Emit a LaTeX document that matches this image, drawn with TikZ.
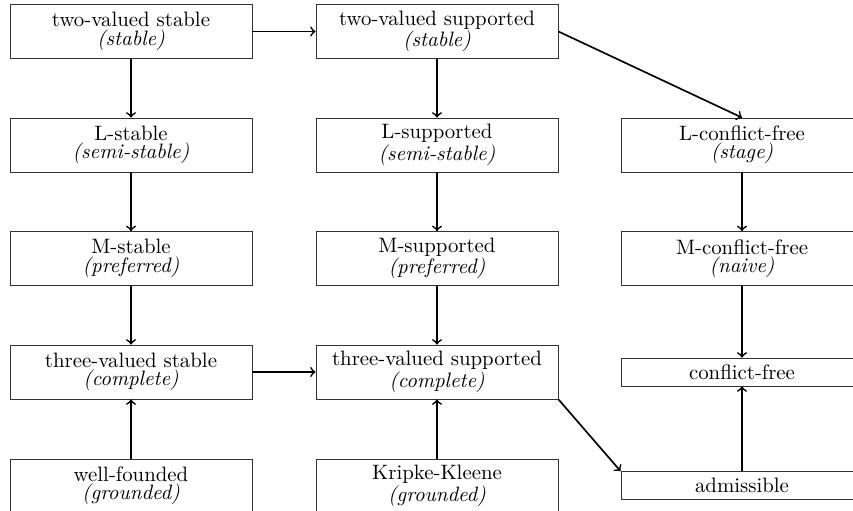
\documentclass[tikz,border=0pt]{standalone}
\begin{document}
\begin{tikzpicture}[x=0.48pt,y=-0.48pt,
  box/.style={draw=black!80, line width=0.4pt, minimum width=116.2pt, minimum height=25.9pt, inner sep=0pt, align=center, font=\fontsize{10}{8.8}\selectfont},
  flat/.style={draw=black!80, line width=0.4pt, minimum width=116.2pt, minimum height=13.4pt, inner sep=0pt, align=center},
  arr/.style={->, thick}]
\useasboundingbox (0,0) rectangle (853,511);
\node[box] (tvst) at (131,31.5) {two-valued stable\\\textit{(stable)}};
\node[box] (tvsu) at (437,31.5) {two-valued supported\\\textit{(stable)}};
\node[box] (lst) at (131,145) {L-stable\\\textit{(semi-stable)}};
\node[box] (lsu) at (437,145) {L-supported\\\textit{(semi-stable)}};
\node[box] (lcf) at (742,145) {L-conflict-free\\\textit{(stage)}};
\node[box] (mst) at (131,258.5) {M-stable\\\textit{(preferred)}};
\node[box] (msu) at (437,258.5) {M-supported\\\textit{(preferred)}};
\node[box] (mcf) at (742,258.5) {M-conflict-free\\\textit{(naive)}};
\node[box] (thst) at (131,372) {three-valued stable\\\textit{(complete)}};
\node[box] (thsu) at (437,372) {three-valued supported\\\textit{(complete)}};
\node[flat] (cf) at (742,372) {conflict-free};
\node[box] (wf) at (131,486) {well-founded\\\textit{(grounded)}};
\node[box] (kk) at (437,486) {Kripke-Kleene\\\textit{(grounded)}};
\node[flat] (adm) at (742,485.5) {admissible};
\draw[arr] (tvst) -- (tvsu);
\draw[arr] (tvst) -- (lst);
\draw[arr] (lst) -- (mst);
\draw[arr] (mst) -- (thst);
\draw[arr] (wf) -- (thst);
\draw[arr] (tvsu) -- (lsu);
\draw[arr] (lsu) -- (msu);
\draw[arr] (msu) -- (thsu);
\draw[arr] (kk) -- (thsu);
\draw[arr] (thst) -- (thsu);
\draw[arr] (tvsu.east) -- (lcf.north);
\draw[arr] (lcf) -- (mcf);
\draw[arr] (mcf) -- (cf);
\draw[arr] (adm) -- (cf);
\draw[arr] (thsu.south east) -- (adm.north west);
\end{tikzpicture}
\end{document}
